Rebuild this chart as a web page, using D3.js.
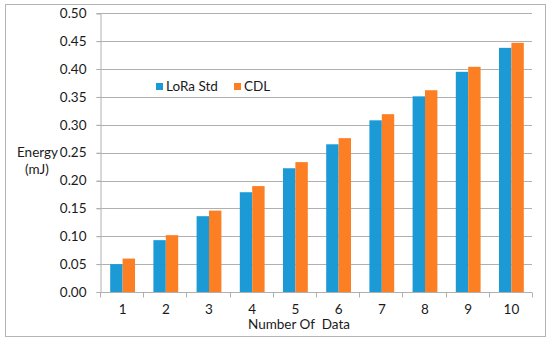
<!DOCTYPE html>
<html><head><meta charset="utf-8">
<script src="https://cdn.jsdelivr.net/npm/d3@7"></script>
<style>body{margin:0;background:#fff}svg{display:block}text{font-family:Lato,"Open Sans",sans-serif;fill:#1a1a1a}</style>
</head><body><svg id="c" width="550" height="342"></svg>
<script>
const categories = ["1","2","3","4","5","6","7","8","9","10"];
const loraStd = [0.050,0.093,0.136,0.179,0.222,0.265,0.308,0.351,0.395,0.438];
const cdl = [0.060,0.102,0.146,0.190,0.233,0.276,0.319,0.362,0.404,0.447];
const seriesNames = ["LoRa Std","CDL"];
const yTicks = [0,0.05,0.10,0.15,0.20,0.25,0.30,0.35,0.40,0.45,0.50];
const colors = ["#1b9ad6","#fd7f23"];

const svg = d3.select("#c");
svg.append("rect").attr("x",5.5).attr("y",4.5).attr("width",540).attr("height",332)
  .attr("fill","#fff").attr("stroke","#b4b4b4").attr("stroke-width",1);

const x = d3.scaleBand().domain(categories).range([100,532]);
const y = d3.scaleLinear().domain([0,0.5]).range([292,13.3]);
const barW = 12.4;

// gridlines
svg.append("g").selectAll("line").data(yTicks.slice(1)).join("line")
  .attr("x1",96.5).attr("x2",532).attr("y1",d=>Math.round(y(d))+0.5).attr("y2",d=>Math.round(y(d))+0.5)
  .attr("stroke","#b0b0b0").attr("stroke-width",1.2);

// y axis
const yAxis = svg.append("g").attr("transform","translate(100.5,0)")
  .call(d3.axisLeft(y).tickValues(yTicks).tickFormat(d3.format(".2f")).tickSize(4).tickPadding(10));
yAxis.select(".domain").attr("stroke","#b0b0b0");
yAxis.selectAll(".tick line").attr("stroke","#b0b0b0");
yAxis.selectAll("text").attr("font-size",13.5).attr("fill","#1a1a1a").style("font-family","Lato, sans-serif");

// x axis with ticks at band boundaries
const xg = svg.append("g").attr("transform","translate(0,292.5)");
xg.append("line").attr("x1",100).attr("x2",532).attr("stroke","#b0b0b0").attr("stroke-width",1.2);
const bounds = categories.map(c=>x(c)).concat([x.range()[1]]);
xg.selectAll(".tk").data(bounds).join("line").attr("class","tk")
  .attr("x1",d=>Math.round(d)+0.5).attr("x2",d=>Math.round(d)+0.5).attr("y1",0).attr("y2",5)
  .attr("stroke","#b0b0b0");
xg.selectAll(".lbl").data(categories).join("text").attr("class","lbl")
  .attr("x",d=>x(d)+x.bandwidth()/2+1).attr("y",21.5).attr("text-anchor","middle")
  .attr("font-size",13.5).text(d=>d);

// bars
const series = [loraStd, cdl];
series.forEach((vals,si)=>{
  svg.append("g").selectAll("rect").data(vals).join("rect")
    .attr("x",(d,i)=>x(categories[i])+x.bandwidth()/2+1-barW+si*barW)
    .attr("y",d=>y(d)).attr("width",barW).attr("height",d=>y(0)-y(d))
    .attr("fill",colors[si]);
});

// legend
const leg = [{x:156,name:seriesNames[0],c:colors[0]},{x:234,name:seriesNames[1],c:colors[1]}];
leg.forEach(l=>{
  svg.append("rect").attr("x",l.x).attr("y",83).attr("width",7).attr("height",7).attr("fill",l.c);
  svg.append("text").attr("x",l.x+10).attr("y",91).attr("font-size",13.5).text(l.name);
});

// axis titles
svg.append("text").attr("x",17).attr("y",157).attr("font-size",13.5).text("Energy");
svg.append("text").attr("x",25).attr("y",174).attr("font-size",13.5).text("(mJ)");
svg.append("text").attr("x",299).attr("y",329).attr("text-anchor","middle").attr("font-size",13.5)
  .attr("xml:space","preserve").style("white-space","pre").text("Number Of  Data");
</script></body></html>
